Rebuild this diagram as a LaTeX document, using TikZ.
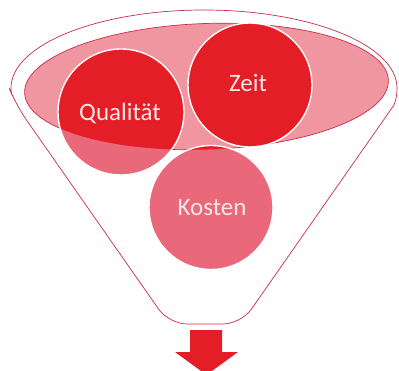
\documentclass[tikz,border=0pt]{standalone}
\usepackage{fontspec}
\setmainfont{Carlito}
\definecolor{darkred}{RGB}{228,30,38}
\definecolor{circpink}{RGB}{233,105,122}
\definecolor{ellpink}{RGB}{240,150,160}
\definecolor{edgered}{RGB}{200,45,75}
\definecolor{textwhite}{RGB}{250,232,232}
\tikzset{
  lbl/.style={text=textwhite, font=\fontsize{25}{30}\selectfont, inner sep=0pt},
  outline/.style={draw=edgered, line width=0.7pt},
  ringedge/.style={draw=white, line width=1.4pt}
}
\begin{document}
\begin{tikzpicture}[x=1pt,y=1pt]
\useasboundingbox (0,0) rectangle (399,370);
% funnel
\path[outline, fill=white]
  (11,282) arc[start angle=180, end angle=0, x radius=193, y radius=78]
  .. controls (397,275) and (396,270) .. (394,265)
  [rounded corners=18pt] -- (241,46) -- (169,46) -- (16,265)
  [sharp corners] .. controls (14,270) and (11,275) .. (11,282) -- cycle;
% ellipse
\def\ellpath{(206.5,283.5) ellipse[x radius=182, y radius=63, rotate=2]}
\path[fill=ellpink, outline] (206.5,283.5) ellipse[x radius=182, y radius=63, rotate=2];
% circles, outer colour
\fill[circpink] (121,258) circle[radius=63];
\fill[circpink] (250,285) circle[radius=62];
\fill[circpink] (211,162.5) circle[radius=62];
% circles inside ellipse
\begin{scope}
  \clip (206.5,283.5) ellipse[x radius=182, y radius=63, rotate=2];
  \fill[darkred] (121,258) circle[radius=63];
  \fill[darkred] (250,285) circle[radius=62];
  \fill[darkred] (211,162.5) circle[radius=62];
\end{scope}
\draw[ringedge] (121,258) circle[radius=63];
\draw[ringedge] (250,285) circle[radius=62];
\draw[ringedge] (211,162.5) circle[radius=62];
% labels
\node[lbl] (qual) at (120,257) {Qualität};
\node[lbl] (zeit) at (248,287) {Zeit};
\node[lbl] (kost) at (212,162) {Kosten};
% arrow
\fill[darkred] (190,40) -- (222,40) -- (222,18) -- (238,18) -- (206.5,-5) -- (175,18) -- (190,18) -- cycle;
\end{tikzpicture}
\end{document}
